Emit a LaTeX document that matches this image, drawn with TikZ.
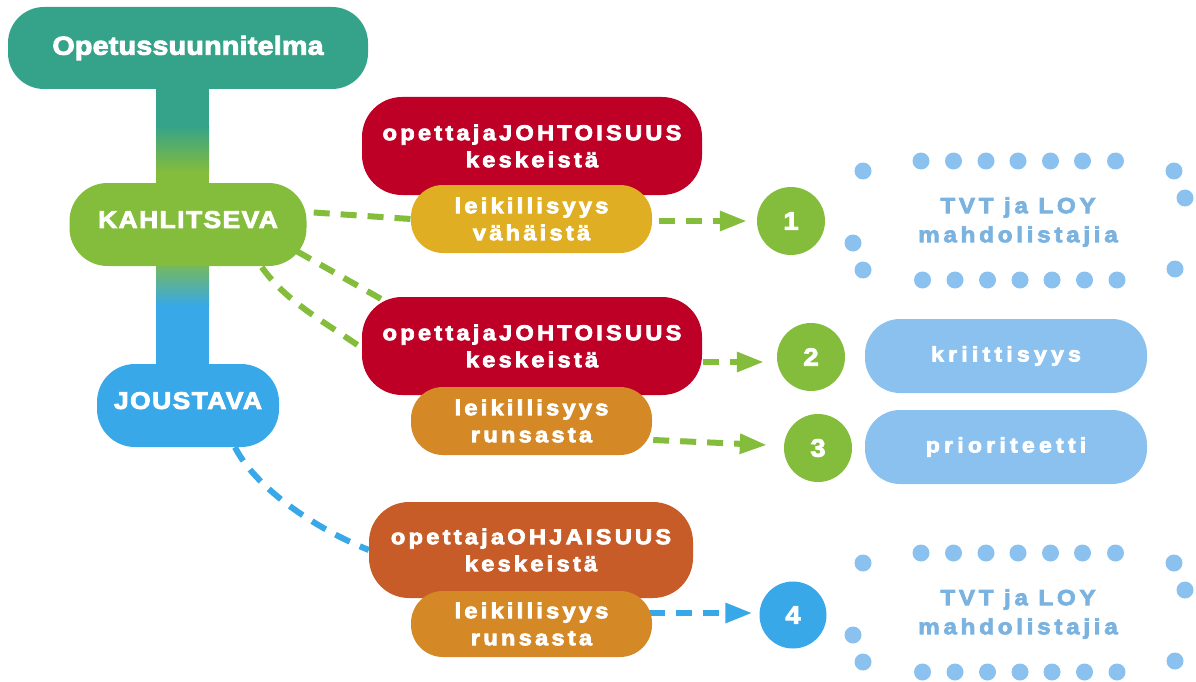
\documentclass[tikz,border=0pt]{standalone}
\usepackage{fontspec}
\setmainfont{Liberation Sans}[BoldFeatures={FakeBold=3.5, FakeStretch=1.1}]
\newfontfamily\headfont{Liberation Sans}[LetterSpace=1, BoldFeatures={FakeBold=3.5, FakeStretch=1.1}]
\newfontfamily\levelfont{Liberation Sans}[LetterSpace=6, BoldFeatures={FakeBold=3.5, FakeStretch=1.1}]
\newfontfamily\stylefont{Liberation Sans}[LetterSpace=15, BoldFeatures={FakeBold=3.5, FakeStretch=1.1}]
\newfontfamily\traitfont{Liberation Sans}[LetterSpace=20, BoldFeatures={FakeBold=3.5, FakeStretch=1.1}]
\newfontfamily\notefont{Liberation Sans}[LetterSpace=17, BoldFeatures={FakeBold=3.5, FakeStretch=1.1}]
\usetikzlibrary{arrows.meta,backgrounds,calc}

\definecolor{cTeal}{RGB}{53,163,138}
\definecolor{cGreen}{RGB}{132,188,60}
\definecolor{cBlue}{RGB}{56,168,232}
\definecolor{cRed}{RGB}{190,0,39}
\definecolor{cYellow}{RGB}{224,174,34}
\definecolor{cOrange}{RGB}{212,137,38}
\definecolor{cRust}{RGB}{200,92,40}
\definecolor{cSky}{RGB}{139,193,238}
\definecolor{cSkyText}{RGB}{122,178,224}

\tikzset{
  pill/.style={draw=none, inner sep=0pt, align=center, text=white},
  headbox/.style={pill, fill=cTeal, minimum width=360pt, minimum height=82pt,
    rounded corners=36pt, font=\headfont\bfseries\fontsize{26}{30}\selectfont},
  levelbox/.style={pill, minimum height=83pt, rounded corners=38pt, text depth=10pt,
    font=\levelfont\bfseries\fontsize{24}{28}\selectfont},
  leadbox/.style={pill, minimum width=340pt, minimum height=98pt, rounded corners=40pt,
    font=\stylefont\bfseries\fontsize{21.5}{27}\selectfont},
  humourbox/.style={pill, minimum width=241pt, minimum height=68pt, rounded corners=32pt,
    font=\stylefont\bfseries\fontsize{21.5}{27}\selectfont},
  numdot/.style={pill, circle, minimum size=68pt,
    font=\bfseries\fontsize{25}{28}\selectfont},
  traitbox/.style={pill, fill=cSky, minimum width=282pt, minimum height=74pt,
    rounded corners=35pt, font=\traitfont\bfseries\fontsize{21}{26}\selectfont},
  notetext/.style={align=center, inner sep=0pt, text=cSkyText,
    font=\notefont\bfseries\fontsize{22}{29}\selectfont},
  gdash/.style={draw=cGreen, line width=6pt, dash pattern=on 16pt off 11pt},
  bdash/.style={draw=cBlue, line width=6pt, dash pattern=on 16pt off 11pt},
  garrow/.style={gdash, -{Triangle[length=27pt,width=19pt]}},
  barrow/.style={bdash, -{Triangle[length=27pt,width=19pt]}},
}

\begin{document}
\begin{tikzpicture}[x=1pt, y=-1pt]
\useasboundingbox (0,0) rectangle (1196,682);

% vertical spine, teal -> green -> blue
\fill[cTeal] (156,85) rectangle (209,126);
\shade[top color=cTeal, bottom color=cGreen] (156,125.5) rectangle (209,172);
\fill[cGreen] (156,171.5) rectangle (209,256);
\shade[top color=cGreen, bottom color=cBlue] (156,255.5) rectangle (209,306);
\fill[cBlue] (156,305.5) rectangle (209,368);

% levels
\node[headbox] (plan) at (188,48) {Opetussuunnitelma};
\node[levelbox, fill=cGreen, minimum width=237pt] (kahl) at (188,224.5) {KAHLITSEVA};
\node[levelbox, fill=cBlue, minimum width=182pt] (jous) at (188,405.5) {JOUSTAVA};

% teaching styles
\node[leadbox, fill=cRed] (lead1) at (532,146) {opettajaJOHTOISUUS\\keskeistä};
\node[humourbox, fill=cYellow] (hum1) at (531.5,219) {leikillisyys\\vähäistä};
\node[leadbox, fill=cRed] (lead2) at (532,346) {opettajaJOHTOISUUS\\keskeistä};
\node[humourbox, fill=cOrange] (hum2) at (531.5,421) {leikillisyys\\runsasta};
\node[leadbox, fill=cRust, minimum width=324pt, minimum height=96pt] (lead3) at (531,550) {opettajaOHJAISUUS\\keskeistä};
\node[humourbox, fill=cOrange, minimum height=66pt] (hum3) at (531.5,624) {leikillisyys\\runsasta};

% numbered outcomes
\node[numdot, fill=cGreen] (n1) at (791,221) {1};
\node[numdot, fill=cGreen] (n2) at (811,357) {2};
\node[numdot, fill=cGreen] (n3) at (818,448) {3};
\node[numdot, fill=cBlue, minimum size=67pt] (n4) at (793,615) {4};

\node[traitbox] (crit) at (1006,356) {kriittisyys};
\node[traitbox] (prio) at (1006,447) {prioriteetti};

% dotted frames around the notes
\foreach \dy in {0,392} {
  \foreach \px/\py in {921/161, 953.5/161, 986/161, 1018/161, 1050.5/161, 1082.5/161, 1115.5/161,
                       922.5/280, 955/280, 987.5/280, 1020/280, 1052/280, 1084.5/280, 1117/280,
                       863/171, 853/243, 863/270, 1174/171, 1185/198, 1175/269}
    \fill[cSky] (\px,\py+\dy) circle[radius=8.5pt];
}
\node[notetext] (note1) at (1018,222) {TVT ja LOY\\mahdolistajia};
\node[notetext] (note2) at (1018,614) {TVT ja LOY\\mahdolistajia};

% connectors
\begin{scope}[on background layer]
  \draw[gdash] ([shift={(7,-12)}]kahl.east) -- (hum1.west);
  \draw[gdash] ([shift={(-10,-15)}]kahl.south east) -- ([shift={(19,2)}]lead2.north west);
  \draw[gdash] ([shift={(192.5,1)}]kahl.south west)
     .. controls ($(kahl.south west)+(217.5,36)$) and ($(lead2.west)+(-40,-26)$) .. ([shift={(0,2)}]lead2.west);
  \draw[bdash] ([shift={(47,0)}]jous.south)
     .. controls ($(jous.south)+(67,40)$) and ($(lead3.west)+(-55,-22)$) .. (lead3.west);
  \draw[garrow] ([shift={(7,2)}]hum1.east) -- ([xshift=-10pt]n1.west);
  \draw[garrow] ([shift={(1,16)}]lead2.east) -- ([shift={(-13,5)}]n2.west);
  \draw[garrow] ([shift={(1,19)}]hum2.east) -- ([shift={(-17,-3)}]n3.west);
  \draw[barrow] ([shift={(-3,-11)}]hum3.east) -- ([shift={(-7,-2)}]n4.west);
\end{scope}
\end{tikzpicture}
\end{document}
